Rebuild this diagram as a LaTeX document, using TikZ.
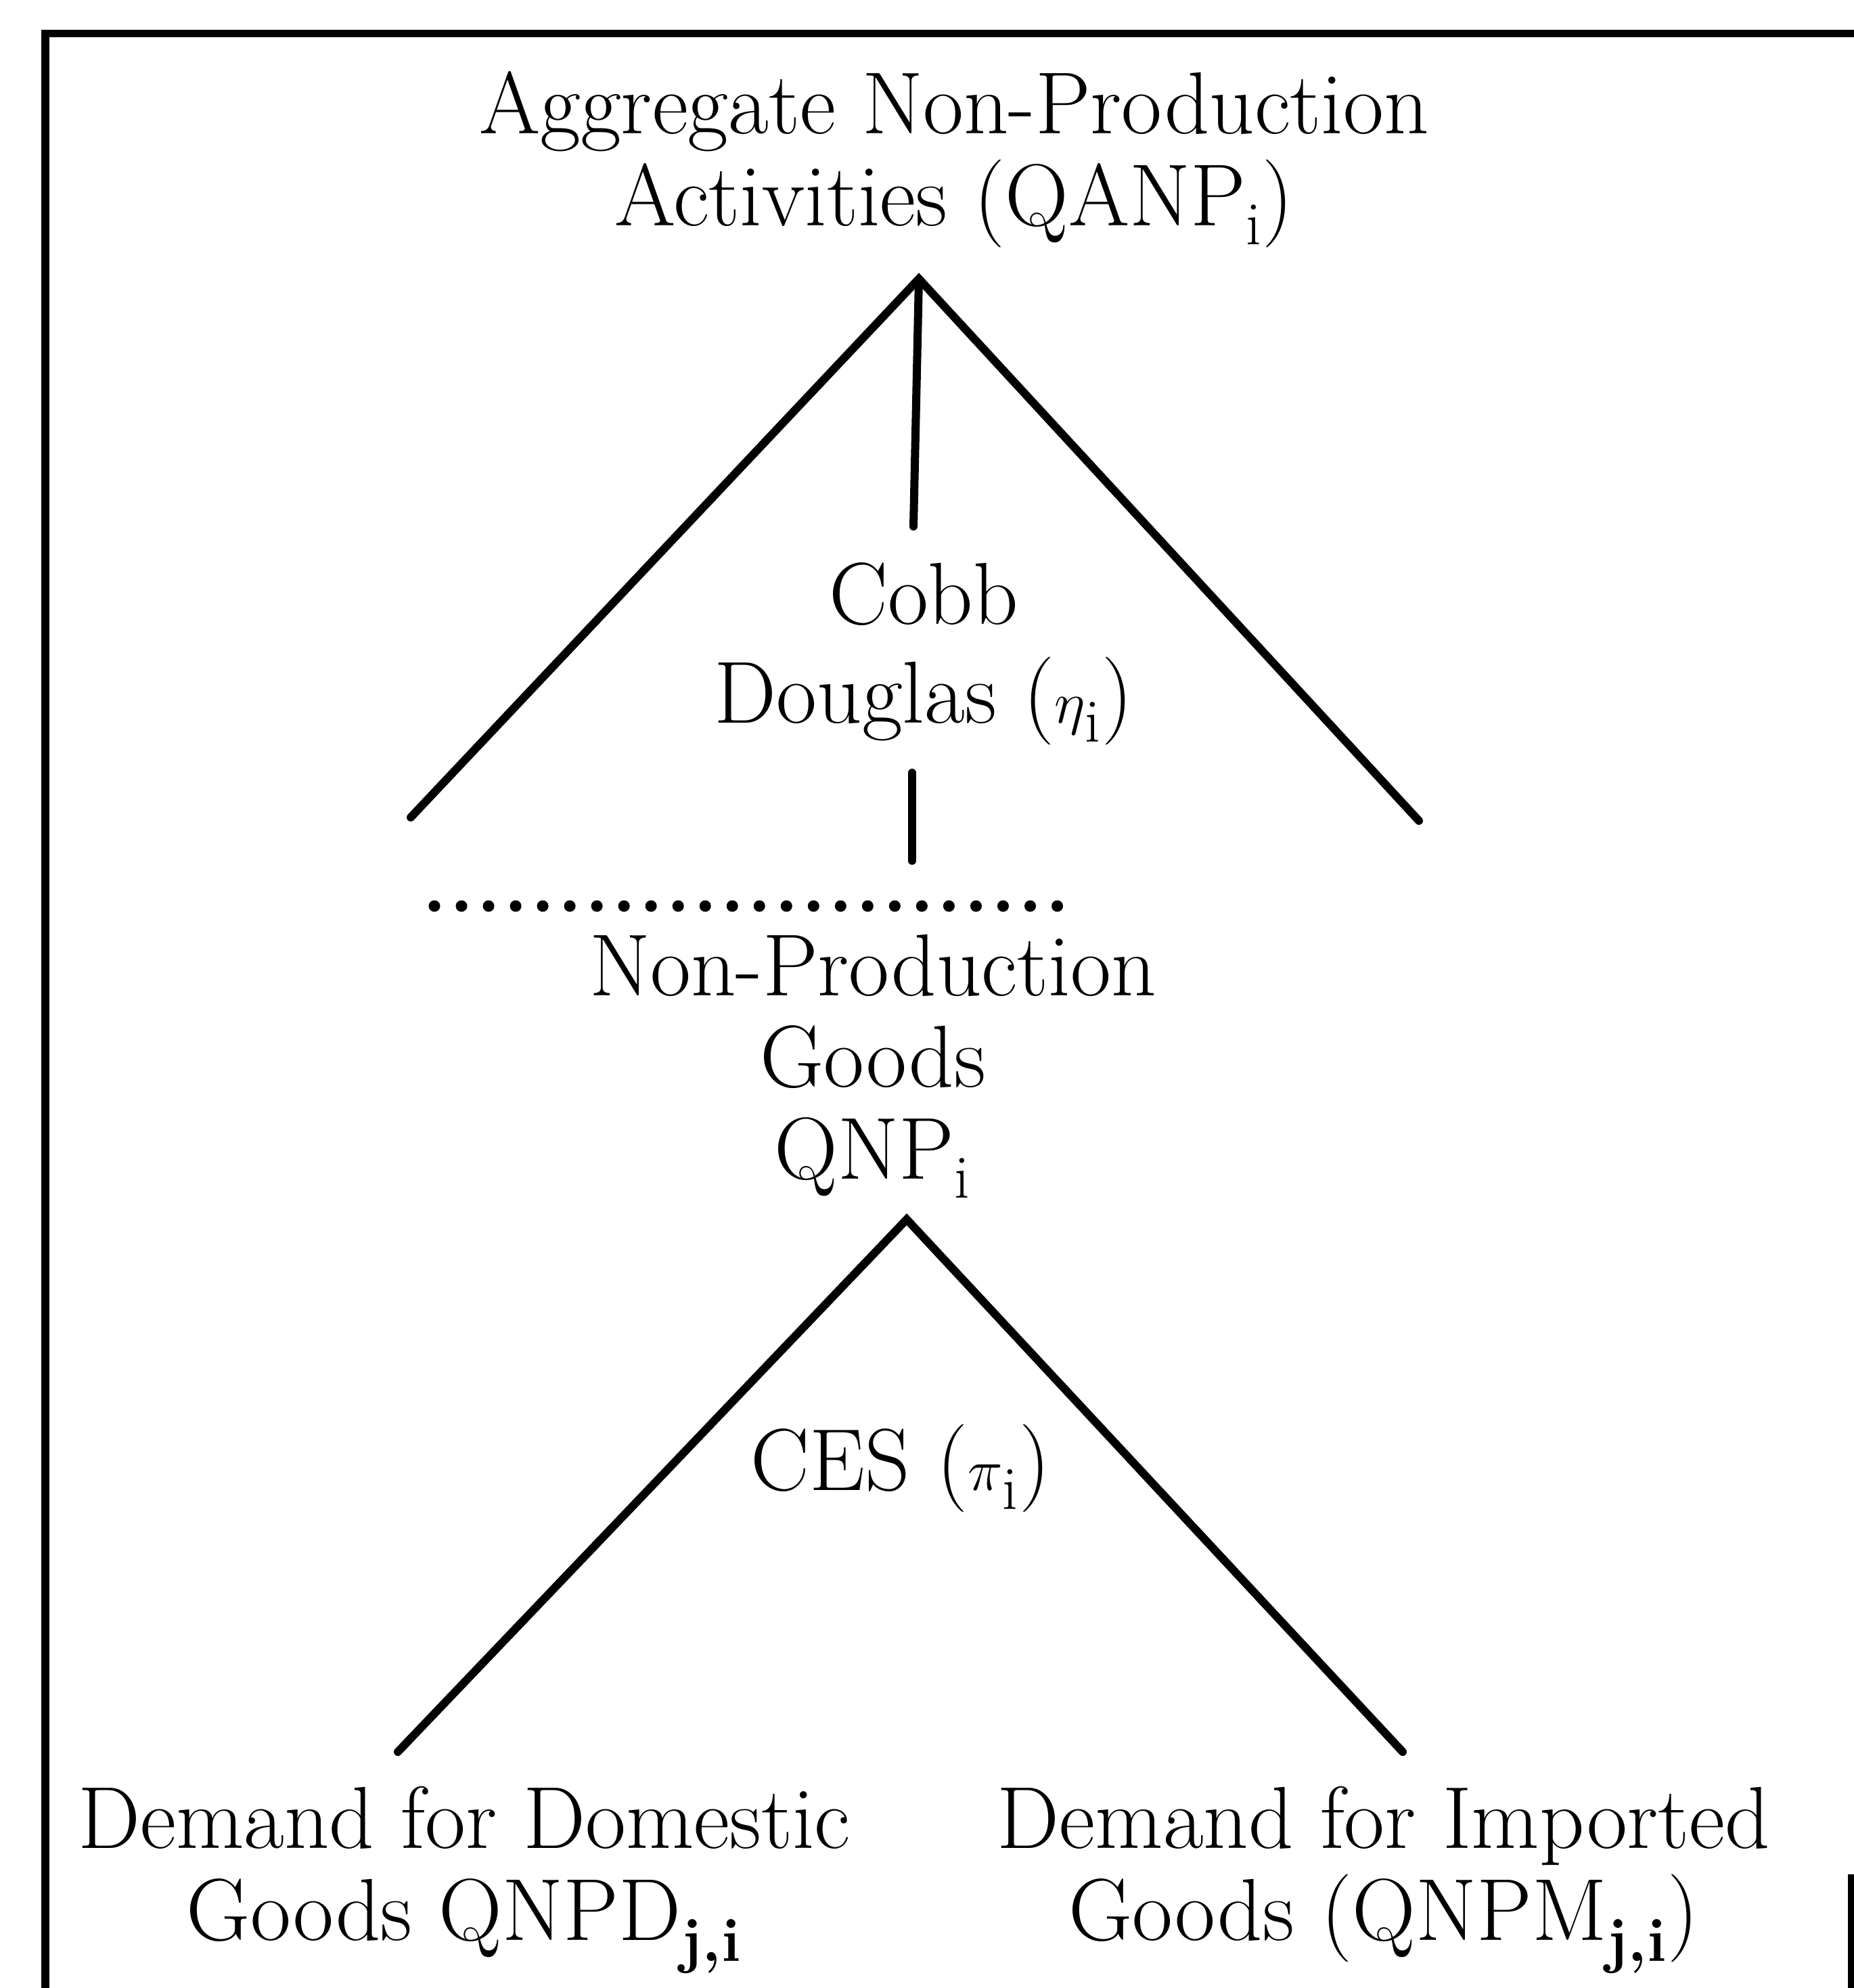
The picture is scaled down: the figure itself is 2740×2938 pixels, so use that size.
\documentclass[tikz,border=0pt]{standalone}
\usepackage{fontspec}
\setmainfont{Latin Modern Roman}
\tikzset{
  lbl/.style={align=center, anchor=base, inner sep=0pt,
    font=\fontsize{37}{38.5}\selectfont},
  leg/.style={line width=0.12cm, line cap=round, line join=miter},
  frame/.style={line width=0.11cm},
  dots/.style={line width=0.17cm, line cap=round, dash pattern=on 0pt off 0.4cm},
}
\newcommand{\sbs}[1]{\textsubscript{#1}}
\begin{document}
\begin{tikzpicture}[x=0.01cm, y=-0.01cm]
\useasboundingbox (0,0) rectangle (2740,2938);

% frame (open at the right and bottom)
\draw[frame] (67,2938) -- (67,49) -- (2740,49);
\draw[frame] (2736,2770) -- (2736,2938);

% labels (each placed at the baseline of its last line)
\node[lbl] (top) at (1410,333) {Aggregate Non-Production\\Activities (QANP\sbs{i})};
\node[lbl] (cd) at (1365,1068) {Cobb\\[3pt]Douglas ($\eta$\sbs{i})};
\node[lbl] (npg) at (1290,1742) {Non-Production\\Goods\\QNP\sbs{i}};
\node[lbl] (ces) at (1331,2202) {CES ($\pi$\sbs{i})};
\node[lbl] (dom) at (686,2867) {Demand for Domestic\\Goods QNPD\sbs{\textbf{j,i}}};
\node[lbl] (imp) at (2045,2867) {Demand for Imported\\Goods (QNPM\sbs{\textbf{j,i}})};

% upper Cobb-Douglas nest
\coordinate (a1) at (1358,412);
\coordinate (a1l) at (607,1208);
\coordinate (a1r) at (2097,1213);
\coordinate (a1m) at (1350,778);
\coordinate (cdt) at (1348,1142);
\coordinate (cdb) at (1348,1272);
\draw[leg] (a1l) -- (a1) -- (a1r);
\draw[leg] (a1) -- (a1m);
\draw[leg] (cdt) -- (cdb);

% dotted separator
\coordinate (sepl) at (642,1339);
\coordinate (sepr) at (1564,1339);
\draw[dots] (sepl) -- (sepr);

% lower CES nest
\coordinate (a2) at (1340,1802);
\coordinate (a2l) at (588,2589);
\coordinate (a2r) at (2073,2589);
\draw[leg] (a2l) -- (a2) -- (a2r);
\end{tikzpicture}
\end{document}
